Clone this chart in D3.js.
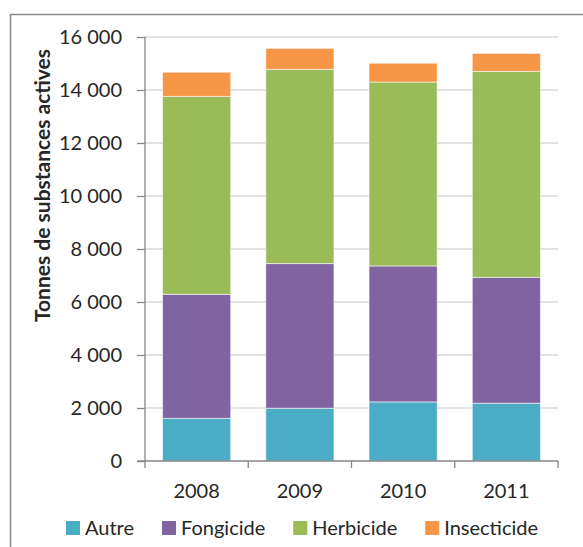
<!DOCTYPE html>
<html>
<head>
<meta charset="utf-8">
<script src="https://cdn.jsdelivr.net/npm/d3@7"></script>
<style>
  html, body { margin: 0; padding: 0; background: #fff; }
  svg { display: block; }
  text { font-family: Lato, "Open Sans", sans-serif; fill: #262626; }
</style>
</head>
<body>
<svg id="chart" width="583" height="547"></svg>
<script>
const years = ["2008", "2009", "2010", "2011"];
const seriesNames = ["Autre", "Fongicide", "Herbicide", "Insecticide"];
const autre = [1610, 1990, 2230, 2180];
const fongicide = [4680, 5460, 5130, 4750];
const herbicide = [7470, 7330, 6940, 7770];
const insecticide = [910, 790, 710, 680];
const yTicks = [0, 2000, 4000, 6000, 8000, 10000, 12000, 14000, 16000];
const colors = ["#4BACC6", "#8064A2", "#9BBB59", "#F79646"];
const yTitle = "Tonnes de substances actives";

const seriesValues = [autre, fongicide, herbicide, insecticide];
const table = years.map((yr, i) => {
  const row = { year: yr };
  seriesNames.forEach((s, k) => row[s] = seriesValues[k][i]);
  return row;
});

const svg = d3.select("#chart");
const pLeft = 145, pRight = 558, pTop = 37, pBottom = 461;

// outer chart frame (cropped)
svg.append("path")
  .attr("d", `M10.5,547 L10.5,14.5 L583,14.5`)
  .attr("fill", "none").attr("stroke", "#8a8a8a").attr("stroke-width", 1.5);

const x = d3.scaleBand().domain(years).range([pLeft, pRight]).paddingInner(0.34).paddingOuter(0.17);
const y = d3.scaleLinear().domain([0, 16000]).range([pBottom, pTop]);

// gridlines
svg.append("g").selectAll("line").data(yTicks.filter(t => t > 0)).join("line")
  .attr("x1", pLeft).attr("x2", pRight)
  .attr("y1", d => y(d)).attr("y2", d => y(d))
  .attr("stroke", "#d9d9d9").attr("stroke-width", 1.5);

// bars
const stack = d3.stack().keys(seriesNames)(table);
svg.append("g").selectAll("g").data(stack).join("g")
  .attr("fill", (d, i) => colors[i])
  .selectAll("rect").data(d => d).join("rect")
  .attr("x", d => x(d.data.year))
  .attr("width", x.bandwidth())
  .attr("y", d => y(d[1]))
  .attr("height", d => y(d[0]) - y(d[1]))
  .attr("stroke", "#ffffff").attr("stroke-opacity", 0.55).attr("stroke-width", 1);

// y axis
const yAxis = d3.axisLeft(y).tickValues(yTicks).tickSize(8).tickPadding(15)
  .tickFormat(d => d === 0 ? "0" : d3.format(",")(d).replace(",", "\u00A0"));
const gy = svg.append("g").attr("transform", `translate(${pLeft},0)`).call(yAxis);
gy.select(".domain").attr("stroke", "#868686").attr("stroke-width", 1.3).attr("d", `M0,${pTop}V${pBottom}`);
gy.selectAll(".tick line").attr("stroke", "#868686").attr("stroke-width", 1.3);
gy.selectAll(".tick text").style("font-size", "20px").attr("fill", "#262626")
  .style("font-family", "Lato, 'Open Sans', sans-serif");

// x axis
const gx = svg.append("g").attr("transform", `translate(0,${pBottom})`);
gx.append("line").attr("x1", pLeft - 8).attr("x2", pRight).attr("y1", 0).attr("y2", 0)
  .attr("stroke", "#868686").attr("stroke-width", 1.3);
const boundaries = years.map(d => x(d) - x.step() * x.paddingInner() / 2).concat([pRight]);
boundaries[0] = pLeft;
gx.selectAll("line.tk").data(boundaries).join("line").attr("class", "tk")
  .attr("x1", d => d).attr("x2", d => d).attr("y1", 0).attr("y2", 7)
  .attr("stroke", "#868686").attr("stroke-width", 1.3);
gx.selectAll("text").data(years).join("text")
  .attr("x", d => x(d) + x.bandwidth() / 2).attr("y", 37)
  .attr("text-anchor", "middle").style("font-size", "20px").text(d => d);

// y title
svg.append("text")
  .attr("transform", `translate(50,${(43 + 328) / 2}) rotate(-90)`)
  .attr("text-anchor", "middle").style("font-size", "21px").style("font-weight", "bold")
  .attr("fill", "#000").text(yTitle);

// legend
const lg = svg.append("g");
const items = lg.selectAll("g").data(seriesNames).join("g");
items.append("rect").attr("width", 14).attr("height", 14).attr("y", -14).attr("fill", (d, i) => colors[i]);
items.append("text").attr("x", 19).attr("y", 0).style("font-size", "20px").text(d => d);
let cx = 0;
items.each(function () {
  const w = this.getBBox().width;
  d3.select(this).attr("transform", `translate(${cx},0)`);
  cx += w + 28;
});
const total = cx - 28;
lg.attr("transform", `translate(${302 - total / 2},535)`);
</script>
</body>
</html>
